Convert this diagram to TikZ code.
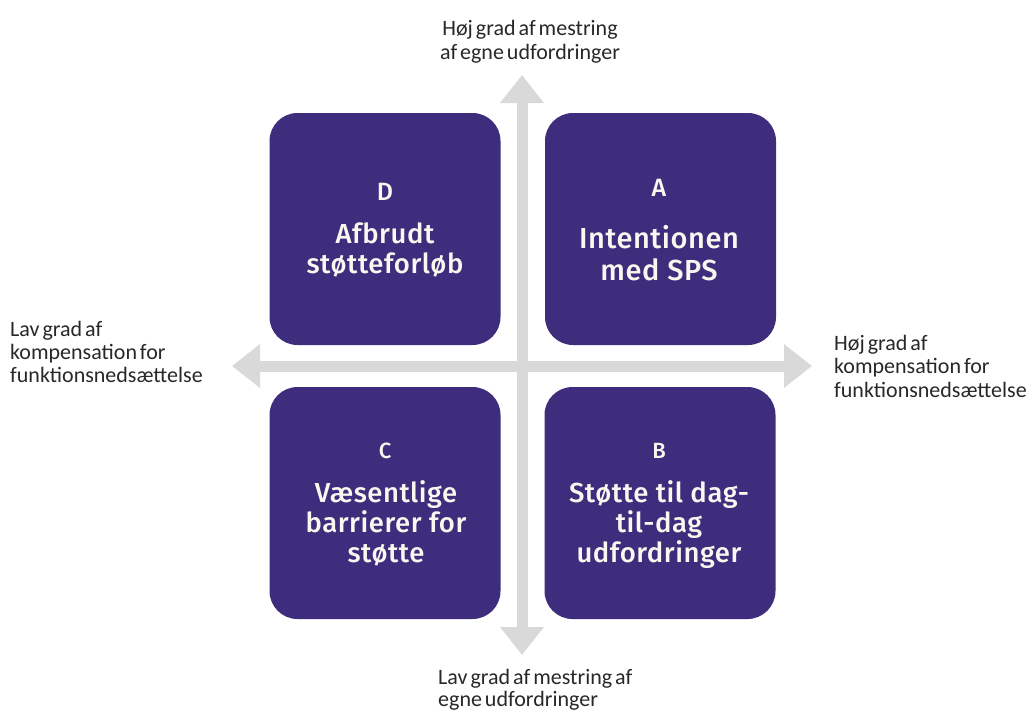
\documentclass[tikz,border=0pt]{standalone}
\usepackage{fontspec}
\setmainfont{Carlito}[WordSpace=0.6]
\newfontfamily\boxfont{Fira Sans}[UprightFont=* Medium, BoldFont=* SemiBold, LetterSpace=2]
\usetikzlibrary{arrows.meta}
\definecolor{boxpurple}{RGB}{61,45,124}
\definecolor{axisgray}{RGB}{217,217,217}
\definecolor{boxtext}{RGB}{248,248,240}
\definecolor{labeltext}{RGB}{40,40,40}
\begin{document}
\begin{tikzpicture}[x=1pt,y=-1pt,
  quad/.style={fill=boxpurple, draw=none, rounded corners=28pt, minimum width=231pt, minimum height=232pt, inner sep=0pt},
  axis/.style={draw=axisgray, line width=11pt, {Triangle[width=42pt,length=28pt]}-{Triangle[width=42pt,length=28pt]}},
  lettr/.style={text=boxtext, anchor=base, inner sep=0pt, font=\boxfont\fontsize{25}{28}\selectfont},
  smlettr/.style={text=boxtext, anchor=base, inner sep=0pt, font=\boxfont\fontsize{22}{26}\selectfont},
  boxline/.style={text=boxtext, anchor=base, inner sep=0pt, font=\boxfont\fontsize{27.5}{30}\selectfont},
  bigline/.style={text=boxtext, anchor=base, inner sep=0pt, font=\boxfont\fontsize{29}{32}\selectfont},
  axlabel/.style={text=labeltext, anchor=base, inner sep=0pt, font=\fontsize{22}{24}\selectfont}
]
\useasboundingbox[fill=white] (0,0) rectangle (1034,713);

% axes
\coordinate (vtop) at (522,75);
\coordinate (vbot) at (522,655);
\coordinate (hleft) at (232,366);
\coordinate (hright) at (812,366);
\draw[axis] (hleft) -- (hright);
\draw[axis] (vbot) -- (vtop);

% quadrant boxes
\node[quad] (D) at (385,229) {};
\node[quad] (A) at (660.5,229) {};
\node[quad] (C) at (385,503) {};
\node[quad] (B) at (660,503) {};

% box D
\node[lettr] (dl) at (385,200) {D};
\node[boxline] (d1) at (385,243) {Afbrudt};
\node[boxline] (d2) at (385,273) {støtteforløb};
% box A
\node[lettr] (al) at (659,196) {A};
\node[bigline] (a1) at (659,248) {Intentionen};
\node[bigline] (a2) at (659,280) {med SPS};
% box C
\node[smlettr] (cl) at (385,458) {C};
\node[boxline] (c1) at (386,502) {Væsentlige};
\node[boxline] (c2) at (386,532) {barrierer for};
\node[boxline] (c3) at (386,562) {støtte};
% box B
\node[smlettr] (bl) at (659,458) {B};
\node[boxline] (b1) at (659,502) {Støtte til dag-};
\node[boxline] (b2) at (659,532) {til-dag};
\node[boxline] (b3) at (659,562) {udfordringer};

% axis labels
\node[axlabel] (t1) at (530,35) {Høj grad af mestring};
\node[axlabel] (t2) at (530,59) {af egne udfordringer};

\node[axlabel, anchor=base west] (l1) at (10,336) {Lav grad af};
\node[axlabel, anchor=base west] (l2) at (10,359) {kompensation for};
\node[axlabel, anchor=base west] (l3) at (10,382) {funktionsnedsættelse};

\node[axlabel, anchor=base west] (r1) at (834,350) {Høj grad af};
\node[axlabel, anchor=base west] (r2) at (834,373) {kompensation for};
\node[axlabel, anchor=base west] (r3) at (834,397) {funktionsnedsættelse};

\node[axlabel, anchor=base west] (u1) at (438,684) {Lav grad af mestring af};
\node[axlabel, anchor=base west] (u2) at (438,706) {egne udfordringer};
\end{tikzpicture}
\end{document}
